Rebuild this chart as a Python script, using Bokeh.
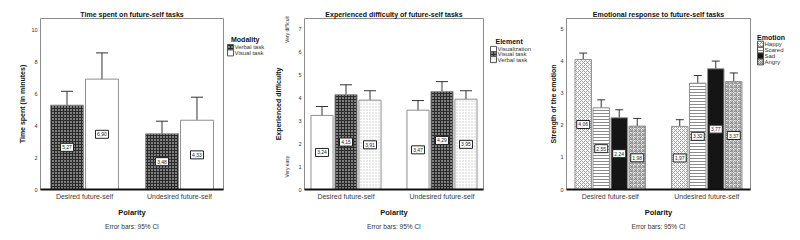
from bokeh.plotting import figure
from bokeh.models import (ColumnDataSource, FactorRange, Whisker, TeeHead,
                          FixedTicker, LinearAxis, Range1d, Title)
from bokeh.transform import dodge
from bokeh.layouts import row
from bokeh.core.properties import value
from bokeh.embed import file_html
from bokeh.resources import INLINE

FONT = "Liberation Sans"

polarity = ["Desired future-self", "Undesired future-self"]

# Panel 1: time spent
time_series = ["Verbal task", "Visual task"]
time_mean = [[5.27, 3.48], [6.90, 4.33]]
time_lo = [[4.45, 2.72], [5.39, 2.98]]
time_hi = [[6.14, 4.27], [8.54, 5.77]]
time_ticks = [0, 2, 4, 6, 8, 10]

# Panel 2: difficulty
diff_series = ["Visualization", "Visual task", "Verbal task"]
diff_mean = [[3.24, 3.47], [4.15, 4.29], [3.91, 3.95]]
diff_lo = [[2.92, 3.10], [3.73, 3.86], [3.54, 3.62]]
diff_hi = [[3.63, 3.89], [4.58, 4.72], [4.32, 4.32]]
diff_ticks = [0, 1, 2, 3, 4, 5, 6, 7]
diff_anchor_ticks = [1, 7]
diff_anchor_labels = ["Very easy", "Very difficult"]

# Panel 3: emotion
emo_series = ["Happy", "Scared", "Sad", "Angry"]
emo_mean = [[4.06, 1.97], [2.55, 3.32], [2.24, 3.77], [1.98, 3.37]]
emo_lo = [[3.86, 1.79], [2.32, 3.10], [1.99, 3.52], [1.79, 3.12]]
emo_hi = [[4.26, 2.18], [2.80, 3.56], [2.49, 4.01], [2.22, 3.64]]
emo_ticks = [0, 1, 2, 3, 4, 5]

CHECKER = dict(fill_color="#2a2a2a", hatch_pattern="dot", hatch_color="white",
               hatch_scale=3, hatch_weight=1.2)
WHITE = dict(fill_color="white")
LIGHTDOT = dict(fill_color="white", hatch_pattern="dot", hatch_color="#c8c8c8",
                hatch_scale=3, hatch_weight=1)
DIAG = dict(fill_color="white", hatch_pattern="diagonal_cross", hatch_color="#9a9a9a",
            hatch_scale=4, hatch_weight=1)
HORIZ = dict(fill_color="white", hatch_pattern="horizontal_line", hatch_color="#8a8a8a",
             hatch_scale=3, hatch_weight=1)
BLACK = dict(fill_color="#151515")
DOTS = dict(fill_color="white", hatch_pattern="criss_cross", hatch_color="#8a8a8a",
            hatch_scale=4, hatch_weight=1)


def fmt(v):
    return f"{v:.2f}".replace(".", ",")


def make_panel(title, ylabel, names, means, los, his, styles, ymax, ticks,
               fig_w, left, rpad, step, bw, head, ylab_standoff, anchor=None):
    p = figure(width=fig_w, height=240, output_backend="svg", toolbar_location=None,
               x_range=FactorRange(*polarity, range_padding=rpad),
               y_range=Range1d(0, ymax), min_border_left=left, min_border_right=1,
               min_border_top=18, min_border_bottom=51)
    p.title.text = title
    p.title.align = "center"
    p.title.text_font = FONT
    p.title.text_font_size = "7px"
    p.title.text_font_style = "bold"
    p.title.text_color = "#111111"
    p.title.standoff = 2
    p.grid.visible = False
    p.outline_line_color = "#8c8c8c"
    p.background_fill_color = "white"
    p.border_fill_color = "white"

    n = len(names)
    for i, name in enumerate(names):
        off = (i - (n - 1) / 2) * step
        src = ColumnDataSource(dict(pol=polarity, m=means[i], lo=los[i], hi=his[i],
                                    mid=[v / 2 for v in means[i]],
                                    txt=[fmt(v) for v in means[i]]))
        xs = dodge("pol", off, range=p.x_range)
        p.vbar(x=xs, top="m", width=bw, source=src,
               line_color="#8f8f8f", line_width=1, **styles[i])
        w = Whisker(source=src, base=xs, upper="hi",
                    lower="lo", line_color="#333333", line_width=1,
                    upper_head=TeeHead(size=head, line_color="#333333", line_width=1),
                    lower_head=TeeHead(size=head, line_color="#333333", line_width=1))
        p.add_layout(w)
        p.rect(x=xs, y="mid", width=13, height=8, width_units="screen",
               height_units="screen", source=src, fill_color="white",
               line_color="#222222", line_width=1)
        p.text(x=xs, y="mid", text="txt", source=src, text_align="center",
               text_baseline="middle", text_font=value(FONT),
               text_font_size=value("5px"), text_color="#222222")

    # axes
    p.yaxis.ticker = FixedTicker(ticks=ticks)
    p.yaxis.axis_line_color = None
    p.yaxis.major_tick_line_color = None
    p.yaxis.major_tick_out = 0
    p.yaxis.major_tick_in = 0
    p.yaxis.minor_tick_line_color = None
    p.yaxis.major_label_text_font = FONT
    p.yaxis.major_label_text_font_size = "5.5px"
    p.yaxis.major_label_text_color = "#333333"
    p.yaxis.major_label_standoff = 3

    lab_axis = p.yaxis[0]
    if anchor is not None:
        ax = LinearAxis(ticker=FixedTicker(ticks=anchor[0]),
                        major_label_overrides={t: s for t, s in zip(anchor[0], anchor[1])},
                        major_label_orientation="vertical", axis_line_color=None,
                        major_tick_line_color=None, minor_tick_line_color=None,
                        major_tick_out=0, major_tick_in=0,
                        major_label_text_font=FONT, major_label_text_font_size="5px",
                        major_label_text_color="#333333", major_label_standoff=5)
        p.add_layout(ax, "left")
        lab_axis = ax
    lab_axis.axis_label = ylabel
    lab_axis.axis_label_text_font = FONT
    lab_axis.axis_label_text_font_size = "7px"
    lab_axis.axis_label_text_font_style = "bold"
    lab_axis.axis_label_text_color = "#111111"
    lab_axis.axis_label_standoff = ylab_standoff

    p.xaxis.axis_line_color = "#111111"
    p.xaxis.axis_line_width = 2
    p.xaxis.major_tick_line_color = None
    p.xaxis.major_tick_out = 0
    p.xaxis.major_tick_in = 0
    p.xaxis.minor_tick_line_color = None
    p.xaxis.major_label_text_font = FONT
    p.xaxis.major_label_text_font_size = "7px"
    p.xaxis.major_label_text_color = "#3a3a3a"
    p.xaxis.major_label_standoff = 3
    p.xaxis.axis_label = "Polarity"
    p.xaxis.axis_label_text_font = FONT
    p.xaxis.axis_label_text_font_size = "7.5px"
    p.xaxis.axis_label_text_font_style = "bold"
    p.xaxis.axis_label_text_color = "#111111"
    p.xaxis.axis_label_standoff = 5

    p.add_layout(Title(text="Error bars: 95% CI", align="center", text_font=FONT,
                       text_font_size="6.5px", text_font_style="normal",
                       text_color="#333333", standoff=3), "below")
    return p


def make_legend(names, styles, legend_title, w, title_x, title_y, glyph_cx, text_x,
                y0, pitch):
    lf = figure(width=w, height=240, output_backend="svg", toolbar_location=None,
                x_range=Range1d(0, w), y_range=Range1d(240, 0),
                x_axis_location=None, y_axis_location=None,
                min_border_left=0, min_border_top=0, min_border_right=0,
                min_border_bottom=0)
    lf.grid.visible = False
    lf.outline_line_color = None
    lf.border_fill_color = "white"
    lf.background_fill_color = "white"
    lf.text(x=[title_x], y=[title_y], text=[legend_title], text_font=value(FONT),
            text_font_size=value("7px"), text_font_style="bold", text_color="#111111",
            text_baseline="middle", text_align="left")
    ys = [y0 + i * pitch for i in range(len(names))]
    for name, st, yy in zip(names, styles, ys):
        lf.rect(x=[glyph_cx], y=[yy], width=6, height=6, width_units="screen",
                height_units="screen", line_color="#555555", line_width=1, **st)
    lf.text(x=[text_x] * len(names), y=ys, text=names, text_font=value(FONT),
            text_font_size=value("6px"), text_color="#333333",
            text_baseline="middle", text_align="left")
    return lf


p1 = make_panel("Time spent on future-self tasks", "Time spent (in minutes)",
                time_series, time_mean, time_lo, time_hi, [CHECKER, WHITE],
                10.69, time_ticks, 224, 40, -0.037, 0.368, 0.347, 12, 2)
l1 = make_legend(time_series, [CHECKER, WHITE], "Modality", 42, 6.5, 29.5, 6, 10, 40.7, 7.6)
p2 = make_panel("Experienced difficulty of future-self tasks", "Experienced difficulty",
                diff_series, diff_mean, diff_lo, diff_hi, [WHITE, CHECKER, LIGHTDOT],
                7.48, diff_ticks, 218, 38, -0.0675, 0.25, 0.23, 12, 0,
                anchor=(diff_anchor_ticks, diff_anchor_labels))
l2 = make_legend(diff_series, [WHITE, CHECKER, LIGHTDOT], "Element", 49, 11, 32.7, 9, 13,
                 43.3, 7.2)
p3 = make_panel("Emotional response to future-self tasks", "Strength of the emotion",
                emo_series, emo_mean, emo_lo, emo_hi, [DIAG, HORIZ, BLACK, DOTS],
                5.34, emo_ticks, 218, 33, -0.047, 0.1865, 0.17, 8, 0)
l3 = make_legend(emo_series, [DIAG, HORIZ, BLACK, DOTS], "Emotion", 49, 5.5, 26, 9, 13,
                 36, 8.3)

layout = row(p1, l1, p2, l2, p3, l3, spacing=0)
open("out.html", "w").write(file_html(layout, INLINE))
